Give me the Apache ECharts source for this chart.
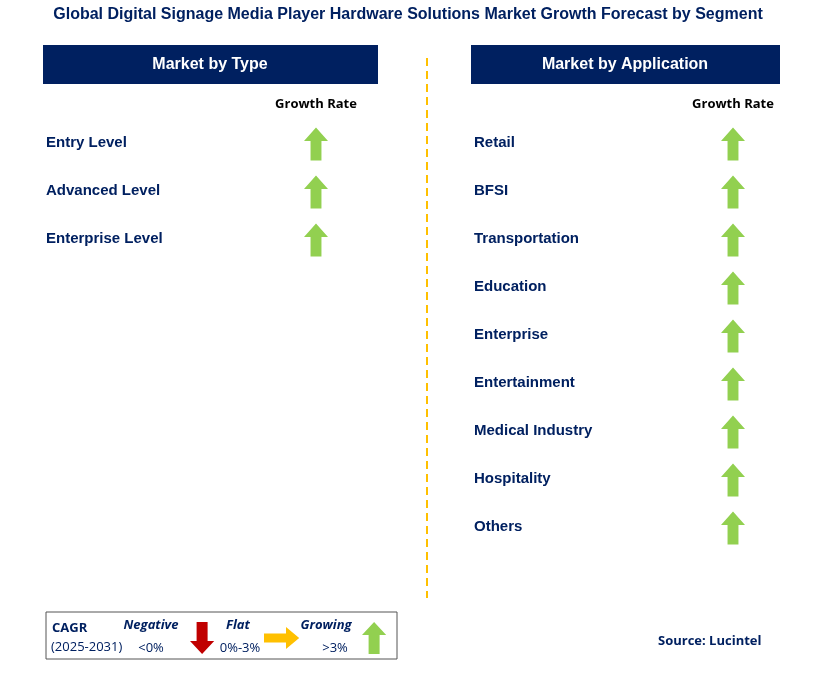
<!DOCTYPE html>
<html>
<head>
<meta charset="utf-8">
<script src="https://cdn.jsdelivr.net/npm/echarts@6/dist/echarts.min.js"></script>
<style>html,body{margin:0;padding:0;background:#fff}#main{width:816px;height:679px}</style>
</head>
<body>
<div id="main"></div>
<script>
var typeNames = ['Entry Level', 'Advanced Level', 'Enterprise Level'];
var typeGrowth = ['up', 'up', 'up'];
var appNames = ['Retail', 'BFSI', 'Transportation', 'Education', 'Enterprise', 'Entertainment', 'Medical Industry', 'Hospitality', 'Others'];
var appGrowth = ['up', 'up', 'up', 'up', 'up', 'up', 'up', 'up', 'up'];
var colLabel = ['Growth Rate'];

var upArrow = 'path://M11,0 L22,13 L16,13 L16,32 L6,32 L6,13 L0,13 Z';
var downArrow = 'path://M6,0 L16,0 L16,19 L22,19 L11,32 L0,19 L6,19 Z';
var rightArrow = 'path://M0,6 L20,6 L20,0 L32,10 L20,20 L20,14 L0,14 Z';
var navy = '#002060';

function arrowData(names, growth) {
	return names.map(function (n, i) {
		return [colLabel[0], n, growth[i]];
	});
}
function yAx(idx, names, margin) {
	return {
		type: 'category', gridIndex: idx, data: names, inverse: true,
		axisLine: {show: false}, axisTick: {show: false}, splitLine: {show: false},
		axisLabel: {align: 'left', margin: margin, color: navy, fontSize: 15, fontWeight: 'bold', fontFamily: 'Liberation Sans'}
	};
}
function xAx(idx) {
	return {
		type: 'category', gridIndex: idx, data: colLabel, position: 'top',
		axisLine: {show: false}, axisTick: {show: false},
		axisLabel: {margin: 8, color: '#000', fontSize: 13, fontWeight: 'bold', fontFamily: 'Open Sans'}
	};
}
function arrowSeries(idx, names, growth) {
	return {
		type: 'scatter', xAxisIndex: idx, yAxisIndex: idx,
		data: arrowData(names, growth),
		symbol: function (v) { return v[2] === 'up' ? upArrow : (v[2] === 'down' ? downArrow : rightArrow); },
		symbolSize: [24, 33],
		symbolOffset: [0, 1],
		itemStyle: {color: '#92D050', opacity: 1},
		silent: true
	};
}
function poly(pts, dx, dy, sx, sy, color) {
	return {type: 'polygon', shape: {points: pts.map(function (p) { return [dx + p[0] * sx, dy + p[1] * sy]; })}, style: {fill: color}};
}
var upPts = [[11,0],[22,13],[16,13],[16,32],[6,32],[6,13],[0,13]];
var downPts = [[6,0],[16,0],[16,19],[22,19],[11,32],[0,19],[6,19]];
var rightPts = [[0,6],[20,6],[20,0],[32,10],[20,20],[20,14],[0,14]];

var chart = echarts.init(document.getElementById('main'));
chart.setOption({
	animation: false,
	title: {
		text: 'Global Digital Signage Media Player Hardware Solutions Market Growth Forecast by Segment',
		left: 'center', top: 2,
		textStyle: {color: navy, fontSize: 16, fontWeight: 'bold', fontFamily: 'Liberation Sans'}
	},
	grid: [
		{left: 276, width: 80, top: 119, height: 144},
		{left: 693, width: 80, top: 119, height: 432}
	],
	xAxis: [xAx(0), xAx(1)],
	yAxis: [yAx(0, typeNames, 230), yAx(1, appNames, 219)],
	series: [arrowSeries(0, typeNames, typeGrowth), arrowSeries(1, appNames, appGrowth)],
	graphic: [
		{type: 'rect', shape: {x: 43, y: 45, width: 335, height: 39}, style: {fill: navy}},
		{type: 'text', x: 210, y: 65, style: {text: 'Market by Type', fill: '#fff', font: 'bold 16px "Liberation Sans"', align: 'center', verticalAlign: 'middle'}},
		{type: 'rect', shape: {x: 471, y: 45, width: 309, height: 39}, style: {fill: navy}},
		{type: 'text', x: 625, y: 65, style: {text: 'Market by Application', fill: '#fff', font: 'bold 16px "Liberation Sans"', align: 'center', verticalAlign: 'middle'}},
		{type: 'line', shape: {x1: 427, y1: 58, x2: 427, y2: 598}, style: {stroke: '#FFC000', lineWidth: 2, lineDash: [8, 5]}},
		{type: 'rect', shape: {x: 46, y: 612, width: 351, height: 47}, style: {fill: '#fff', stroke: '#555', lineWidth: 1}},
		{type: 'text', x: 52, y: 628, style: {text: 'CAGR', fill: navy, font: 'bold 13px "Open Sans"', verticalAlign: 'middle'}},
		{type: 'text', x: 51, y: 647, style: {text: '(2025-2031)', fill: navy, font: '13px "Open Sans"', verticalAlign: 'middle'}},
		{type: 'text', x: 151, y: 625, style: {text: 'Negative', fill: navy, font: 'italic bold 13px "Open Sans"', align: 'center', verticalAlign: 'middle'}},
		{type: 'text', x: 151, y: 648, style: {text: '<0%', fill: navy, font: '13px "Open Sans"', align: 'center', verticalAlign: 'middle'}},
		poly(downPts, 190, 622, 1.1, 1, '#C00000'),
		{type: 'text', x: 238, y: 625, style: {text: 'Flat', fill: navy, font: 'italic bold 13px "Open Sans"', align: 'center', verticalAlign: 'middle'}},
		{type: 'text', x: 240, y: 648, style: {text: '0%-3%', fill: navy, font: '13px "Open Sans"', align: 'center', verticalAlign: 'middle'}},
		poly(rightPts, 264, 627, 1.1, 1.1, '#FFC000'),
		{type: 'text', x: 326, y: 625, style: {text: 'Growing', fill: navy, font: 'italic bold 13px "Open Sans"', align: 'center', verticalAlign: 'middle'}},
		{type: 'text', x: 335, y: 648, style: {text: '>3%', fill: navy, font: '13px "Open Sans"', align: 'center', verticalAlign: 'middle'}},
		poly(upPts, 362, 622, 1.1, 1, '#92D050'),
		{type: 'text', x: 658, y: 641, style: {text: 'Source: Lucintel', fill: navy, font: 'bold 13px "Open Sans"', verticalAlign: 'middle'}}
	]
});
</script>
</body>
</html>
